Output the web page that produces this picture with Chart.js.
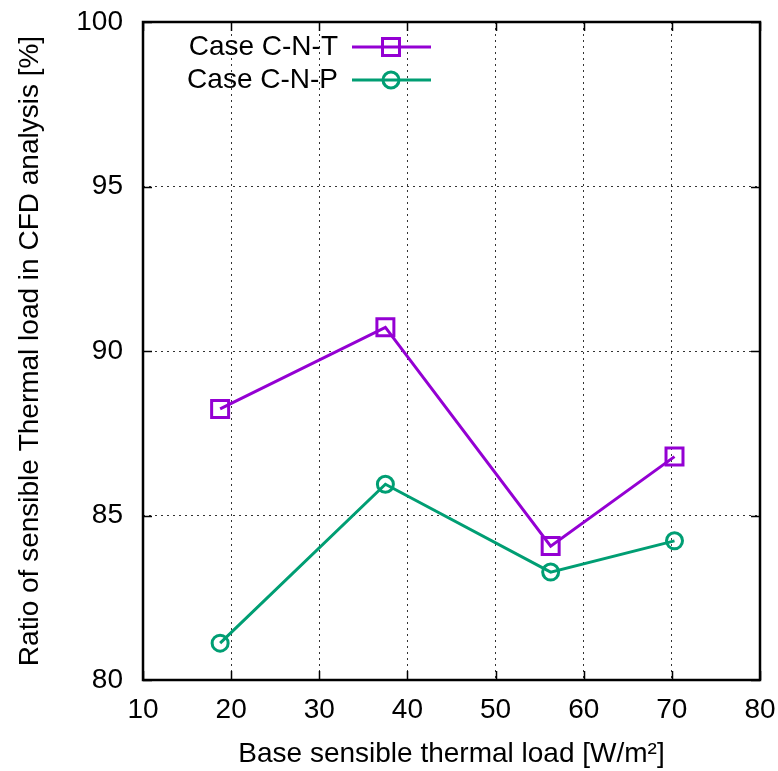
<!DOCTYPE html>
<html>
<head>
<meta charset="utf-8">
<script src="https://cdn.jsdelivr.net/npm/chart.js@4/dist/chart.umd.min.js"></script>
<style>
  html, body { margin: 0; padding: 0; background: #fff; }
  #wrap { width: 778px; height: 771px; }
</style>
</head>
<body>
<div id="wrap"><canvas id="chart" width="778" height="771"></canvas></div>
<script>
// data
const baseLoad = [18.75, 37.5, 56.25, 70.3];
const caseCNT = [88.24, 90.72, 84.07, 86.79];
const caseCNP = [81.12, 85.95, 83.28, 84.23];
const seriesNames = ['Case C-N-T', 'Case C-N-P'];
const xTickValues = [10, 20, 30, 40, 50, 60, 70, 80];
const yTickValues = [80, 85, 90, 95, 100];

const FONT = '"Liberation Sans", Arial, sans-serif';
const FONT_SIZE = 28;
const purple = '#9400d3';
const green = '#009e73';

function toPoints(xs, ys) {
  return xs.map((x, i) => ({ x: x, y: ys[i] }));
}

// gnuplot-like frame: thick border + inward ticks on all sides, and the key
const framePlugin = {
  id: 'frame',
  afterDatasetsDraw(chart) {
    const { ctx, chartArea: a, scales } = chart;
    ctx.save();
    ctx.strokeStyle = '#000';
    ctx.lineWidth = 1.5;
    const len = 9;
    xTickValues.forEach(v => {
      const px = Math.round(scales.x.getPixelForValue(v)) + 0.5;
      ctx.beginPath();
      ctx.moveTo(px, a.bottom); ctx.lineTo(px, a.bottom - len);
      ctx.moveTo(px, a.top); ctx.lineTo(px, a.top + len);
      ctx.stroke();
    });
    yTickValues.forEach(v => {
      const py = Math.round(scales.y.getPixelForValue(v)) + 0.5;
      ctx.beginPath();
      ctx.moveTo(a.left, py); ctx.lineTo(a.left + len, py);
      ctx.moveTo(a.right, py); ctx.lineTo(a.right - len, py);
      ctx.stroke();
    });
    ctx.lineWidth = 2.5;
    ctx.strokeRect(a.left, a.top, a.right - a.left, a.bottom - a.top);
    ctx.restore();
  },
  afterDraw(chart) {
    const { ctx } = chart;
    ctx.save();
    ctx.font = FONT_SIZE + 'px ' + FONT;
    ctx.textAlign = 'right';
    ctx.textBaseline = 'middle';
    chart.data.datasets.forEach((ds, i) => {
      const y = 47 + i * 33;
      ctx.fillStyle = '#000';
      ctx.fillText(ds.label, 338, y);
      ctx.strokeStyle = ds.borderColor;
      ctx.lineWidth = ds.borderWidth;
      ctx.beginPath();
      ctx.moveTo(352, y); ctx.lineTo(431, y);
      ctx.stroke();
      ctx.fillStyle = 'rgba(0,0,0,0)';
      ctx.lineWidth = ds.pointBorderWidth;
      Chart.helpers.drawPoint(ctx, {
        pointStyle: ds.pointStyle, radius: ds.pointRadius, rotation: 0, borderWidth: ds.pointBorderWidth
      }, 391, y);
    });
    ctx.restore();
  }
};

new Chart(document.getElementById('chart'), {
  type: 'scatter',
  data: {
    datasets: [
      {
        label: seriesNames[0],
        data: toPoints(baseLoad, caseCNT),
        showLine: true,
        borderColor: purple,
        backgroundColor: 'transparent',
        borderWidth: 3,
        pointStyle: 'rect',
        pointRadius: 12,
        pointBorderWidth: 3,
        pointBackgroundColor: 'transparent',
        pointBorderColor: purple
      },
      {
        label: seriesNames[1],
        data: toPoints(baseLoad, caseCNP),
        showLine: true,
        borderColor: green,
        backgroundColor: 'transparent',
        borderWidth: 3,
        pointStyle: 'circle',
        pointRadius: 8,
        pointBorderWidth: 3,
        pointBackgroundColor: 'transparent',
        pointBorderColor: green
      }
    ]
  },
  options: {
    responsive: false,
    animation: false,
    layout: { padding: { top: 22, right: 18, left: 0, bottom: 0 } },
    plugins: { legend: { display: false }, tooltip: { enabled: false } },
    scales: {
      x: {
        type: 'linear',
        min: 10, max: 80,
        afterBuildTicks: s => { s.ticks = xTickValues.map(v => ({ value: v })); },
        afterFit: s => { s.height = 91; s.paddingLeft = 0; s.paddingRight = 0; },
        ticks: { color: '#000', font: { family: FONT, size: FONT_SIZE }, padding: 13, maxRotation: 0 },
        grid: { color: '#333', lineWidth: 1, drawTicks: false },
        border: { display: false, dash: [2, 4] },
        title: {
          display: true,
          text: 'Base sensible thermal load [W/m²]',
          color: '#000',
          font: { family: FONT, size: FONT_SIZE },
          padding: { top: 0, bottom: 0 }
        }
      },
      y: {
        type: 'linear',
        min: 80, max: 100,
        afterBuildTicks: s => { s.ticks = yTickValues.map(v => ({ value: v })); },
        afterFit: s => { s.width = 143; s.paddingTop = 0; s.paddingBottom = 0; },
        ticks: { color: '#000', font: { family: FONT, size: FONT_SIZE }, padding: 20 },
        grid: { color: '#333', lineWidth: 1, drawTicks: false },
        border: { display: false, dash: [2, 4] },
        title: {
          display: true,
          text: 'Ratio of sensible Thermal load in CFD analysis [%]',
          color: '#000',
          font: { family: FONT, size: FONT_SIZE },
          padding: { top: 13, bottom: 0 }
        }
      }
    }
  },
  plugins: [framePlugin]
});
</script>
</body>
</html>
